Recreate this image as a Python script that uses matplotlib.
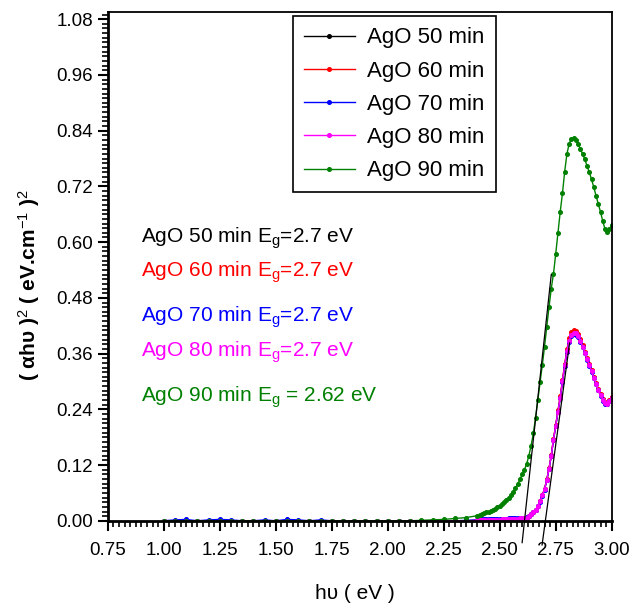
import matplotlib
matplotlib.use("Agg")
import matplotlib.pyplot as plt
from matplotlib.ticker import MultipleLocator, FormatStrFormatter

plt.rcParams['font.family'] = ['Liberation Sans', 'DejaVu Sans']
plt.rcParams['mathtext.fontset'] = 'custom'
plt.rcParams['mathtext.rm'] = 'Liberation Sans'
plt.rcParams['mathtext.it'] = 'Liberation Sans:italic'

# Energia (eV): paso 0.05 en la zona plana, 0.01 en el borde de absorcion
hv = [1.00, 1.05, 1.10, 1.15, 1.20, 1.25, 1.30, 1.35, 1.40, 1.45,
      1.50, 1.55, 1.60, 1.65, 1.70, 1.75, 1.80, 1.85, 1.90, 1.95,
      2.00, 2.05, 2.10, 2.15, 2.20, 2.25, 2.30, 2.35,
      2.40, 2.41, 2.42, 2.43, 2.44, 2.45, 2.46, 2.47, 2.48, 2.49,
      2.50, 2.51, 2.52, 2.53, 2.54, 2.55, 2.56, 2.57, 2.58, 2.59,
      2.60, 2.61, 2.62, 2.63, 2.64, 2.65, 2.66, 2.67, 2.68, 2.69,
      2.70, 2.71, 2.72, 2.73, 2.74, 2.75, 2.76, 2.77, 2.78, 2.79,
      2.80, 2.81, 2.82, 2.83, 2.84, 2.85, 2.86, 2.87, 2.88, 2.89,
      2.90, 2.91, 2.92, 2.93, 2.94, 2.95, 2.96, 2.97, 2.98, 2.99,
      3.00]

ago_50 = [0.000, 0.000, 0.000, 0.000, 0.000, 0.000, 0.000, 0.000, 0.000, 0.000,
          0.000, 0.000, 0.000, 0.000, 0.000, 0.000, 0.000, 0.000, 0.000, 0.000,
          0.000, 0.000, 0.000, 0.000, 0.000, 0.000, 0.000, 0.000,
          0.001, 0.001, 0.001, 0.001, 0.002, 0.002, 0.002, 0.002, 0.002, 0.002,
          0.002, 0.003, 0.003, 0.003, 0.003, 0.003, 0.004, 0.004, 0.004, 0.005,
          0.005, 0.006, 0.007, 0.010, 0.014, 0.018, 0.023, 0.032, 0.042, 0.055,
          0.068, 0.088, 0.112, 0.140, 0.175, 0.205, 0.235, 0.265, 0.300, 0.335,
          0.365, 0.388, 0.400, 0.405, 0.404, 0.398, 0.388, 0.375, 0.362, 0.348,
          0.335, 0.322, 0.308, 0.295, 0.282, 0.270, 0.260, 0.253, 0.252, 0.258,
          0.265]

ago_60 = [0.000, 0.000, 0.000, 0.000, 0.000, 0.000, 0.000, 0.000, 0.000, 0.000,
          0.000, 0.000, 0.000, 0.000, 0.000, 0.000, 0.000, 0.000, 0.000, 0.000,
          0.000, 0.000, 0.000, 0.000, 0.000, 0.000, 0.000, 0.000,
          0.001, 0.001, 0.001, 0.001, 0.002, 0.002, 0.002, 0.002, 0.002, 0.002,
          0.002, 0.003, 0.003, 0.003, 0.003, 0.003, 0.004, 0.004, 0.004, 0.005,
          0.005, 0.006, 0.007, 0.010, 0.014, 0.018, 0.023, 0.032, 0.042, 0.055,
          0.069, 0.089, 0.113, 0.142, 0.177, 0.207, 0.238, 0.268, 0.303, 0.338,
          0.369, 0.393, 0.406, 0.411, 0.409, 0.402, 0.391, 0.378, 0.364, 0.350,
          0.337, 0.324, 0.310, 0.297, 0.284, 0.272, 0.262, 0.255, 0.254, 0.260,
          0.267]

ago_70 = [0.000, 0.002, 0.003, 0.000, 0.002, 0.003, 0.002, 0.000, 0.000, 0.002,
          0.000, 0.003, 0.002, 0.000, 0.002, 0.000, 0.000, 0.000, 0.000, 0.000,
          0.000, 0.000, 0.000, 0.000, 0.000, 0.000, 0.000, 0.001,
          0.002, 0.002, 0.003, 0.003, 0.003, 0.003, 0.003, 0.004, 0.004, 0.004,
          0.004, 0.004, 0.004, 0.004, 0.005, 0.005, 0.005, 0.005, 0.005, 0.006,
          0.006, 0.007, 0.008, 0.010, 0.014, 0.018, 0.023, 0.031, 0.041, 0.054,
          0.067, 0.087, 0.111, 0.139, 0.174, 0.204, 0.234, 0.264, 0.298, 0.333,
          0.363, 0.386, 0.398, 0.402, 0.401, 0.396, 0.386, 0.374, 0.361, 0.347,
          0.334, 0.321, 0.307, 0.294, 0.281, 0.269, 0.259, 0.252, 0.251, 0.257,
          0.264]

ago_80 = [0.000, 0.000, 0.000, 0.000, 0.000, 0.000, 0.000, 0.000, 0.000, 0.000,
          0.000, 0.000, 0.000, 0.000, 0.000, 0.000, 0.000, 0.000, 0.000, 0.000,
          0.000, 0.000, 0.000, 0.000, 0.000, 0.000, 0.000, 0.000,
          0.001, 0.001, 0.001, 0.001, 0.002, 0.002, 0.002, 0.002, 0.002, 0.002,
          0.002, 0.003, 0.003, 0.003, 0.003, 0.003, 0.004, 0.004, 0.004, 0.005,
          0.005, 0.006, 0.007, 0.010, 0.014, 0.018, 0.023, 0.032, 0.042, 0.055,
          0.068, 0.088, 0.112, 0.140, 0.175, 0.205, 0.235, 0.265, 0.300, 0.335,
          0.365, 0.388, 0.400, 0.405, 0.404, 0.398, 0.388, 0.375, 0.362, 0.348,
          0.335, 0.322, 0.308, 0.295, 0.282, 0.270, 0.260, 0.253, 0.252, 0.258,
          0.265]

ago_90 = [0.000, 0.000, 0.000, 0.000, 0.000, 0.000, 0.000, 0.000, 0.000, 0.000,
          0.000, 0.000, 0.000, 0.000, 0.000, 0.000, 0.000, 0.000, 0.000, 0.000,
          0.000, 0.000, 0.000, 0.001, 0.002, 0.003, 0.005, 0.007,
          0.011, 0.013, 0.014, 0.016, 0.018, 0.020, 0.022, 0.024, 0.026, 0.029,
          0.032, 0.036, 0.040, 0.045, 0.050, 0.056, 0.062, 0.070, 0.079, 0.089,
          0.100, 0.110, 0.122, 0.140, 0.162, 0.188, 0.222, 0.260, 0.298, 0.335,
          0.375, 0.418, 0.460, 0.500, 0.532, 0.575, 0.620, 0.665, 0.705, 0.752,
          0.790, 0.812, 0.822, 0.824, 0.820, 0.812, 0.800, 0.790, 0.778, 0.764,
          0.750, 0.735, 0.718, 0.700, 0.682, 0.665, 0.645, 0.628, 0.622, 0.628,
          0.637]

series = [ago_50, ago_60, ago_70, ago_80, ago_90]
labels = ['AgO 50 min', 'AgO 60 min', 'AgO 70 min', 'AgO 80 min', 'AgO 90 min']
colores = ['black', 'red', 'blue', 'magenta', '#008000']
eg_texts = ['AgO 50 min E$_\\mathrm{g}$=2.7 eV', 'AgO 60 min E$_\\mathrm{g}$=2.7 eV',
            'AgO 70 min E$_\\mathrm{g}$=2.7 eV', 'AgO 80 min E$_\\mathrm{g}$=2.7 eV',
            'AgO 90 min E$_\\mathrm{g}$ = 2.62 eV']
eg_y = [0.609, 0.536, 0.439, 0.364, 0.265]

# Rectas tangentes (extrapolacion de Tauc)
tan1_x = [2.600, 2.730]
tan1_y = [-0.047, 0.530]
tan2_x = [2.689, 2.812]
tan2_y = [-0.052, 0.383]

fig = plt.figure(figsize=(6.3, 6.12), dpi=100)
ax = fig.add_axes([0.171, 0.149, 0.800, 0.831])

for datos, lbl, c in zip(series, labels, colores):
    ax.plot(hv, datos, color=c, lw=1.0, marker='o', ms=2.6, mec=c, mfc=c, label=lbl)

ax.plot(tan1_x, tan1_y, color='black', lw=0.9, clip_on=False)
ax.plot(tan2_x, tan2_y, color='black', lw=0.9, clip_on=False)

ax.set_xlim(0.75, 3.00)
ax.set_ylim(0.0, 1.095)

ax.xaxis.set_major_locator(MultipleLocator(0.25))
ax.xaxis.set_minor_locator(MultipleLocator(0.025))
ax.yaxis.set_major_locator(MultipleLocator(0.12))
ax.yaxis.set_minor_locator(MultipleLocator(0.01))
ax.xaxis.set_major_formatter(FormatStrFormatter('%.2f'))
ax.yaxis.set_major_formatter(FormatStrFormatter('%.2f'))

ax.tick_params(which='major', direction='out', length=7, width=1.5, labelsize=13.5, color='black')
ax.tick_params(which='minor', direction='out', length=4, width=1.2)
ax.tick_params(axis='x', which='major', pad=8)
for s in ax.spines.values():
    s.set_linewidth(1.3)
ax.spines['bottom'].set_linewidth(2.0)
ax.spines['left'].set_linewidth(2.0)

ax.set_xlabel('hυ ( eV )', fontsize=15)
ax.xaxis.set_label_coords(0.49, -0.125)
ax.set_ylabel('( αhυ )$^2$ ( eV.cm$^{-1}$ )$^2$', fontsize=15, fontweight='bold')
ax.yaxis.set_label_coords(-0.13, 0.464)

for txt, y, c in zip(eg_texts, eg_y, colores):
    ax.text(0.897, y, txt, color=c, fontsize=15, va='center', ha='left')

lg = ax.legend(loc='upper left', bbox_to_anchor=(0.367, 0.992), borderaxespad=0,
               fontsize=16, handlelength=2.3, handletextpad=0.55, labelspacing=0.55,
               fancybox=False, edgecolor='black', framealpha=1, borderpad=0.5)
lg.get_frame().set_linewidth(1.2)

fig.savefig('out.png', dpi=100)
